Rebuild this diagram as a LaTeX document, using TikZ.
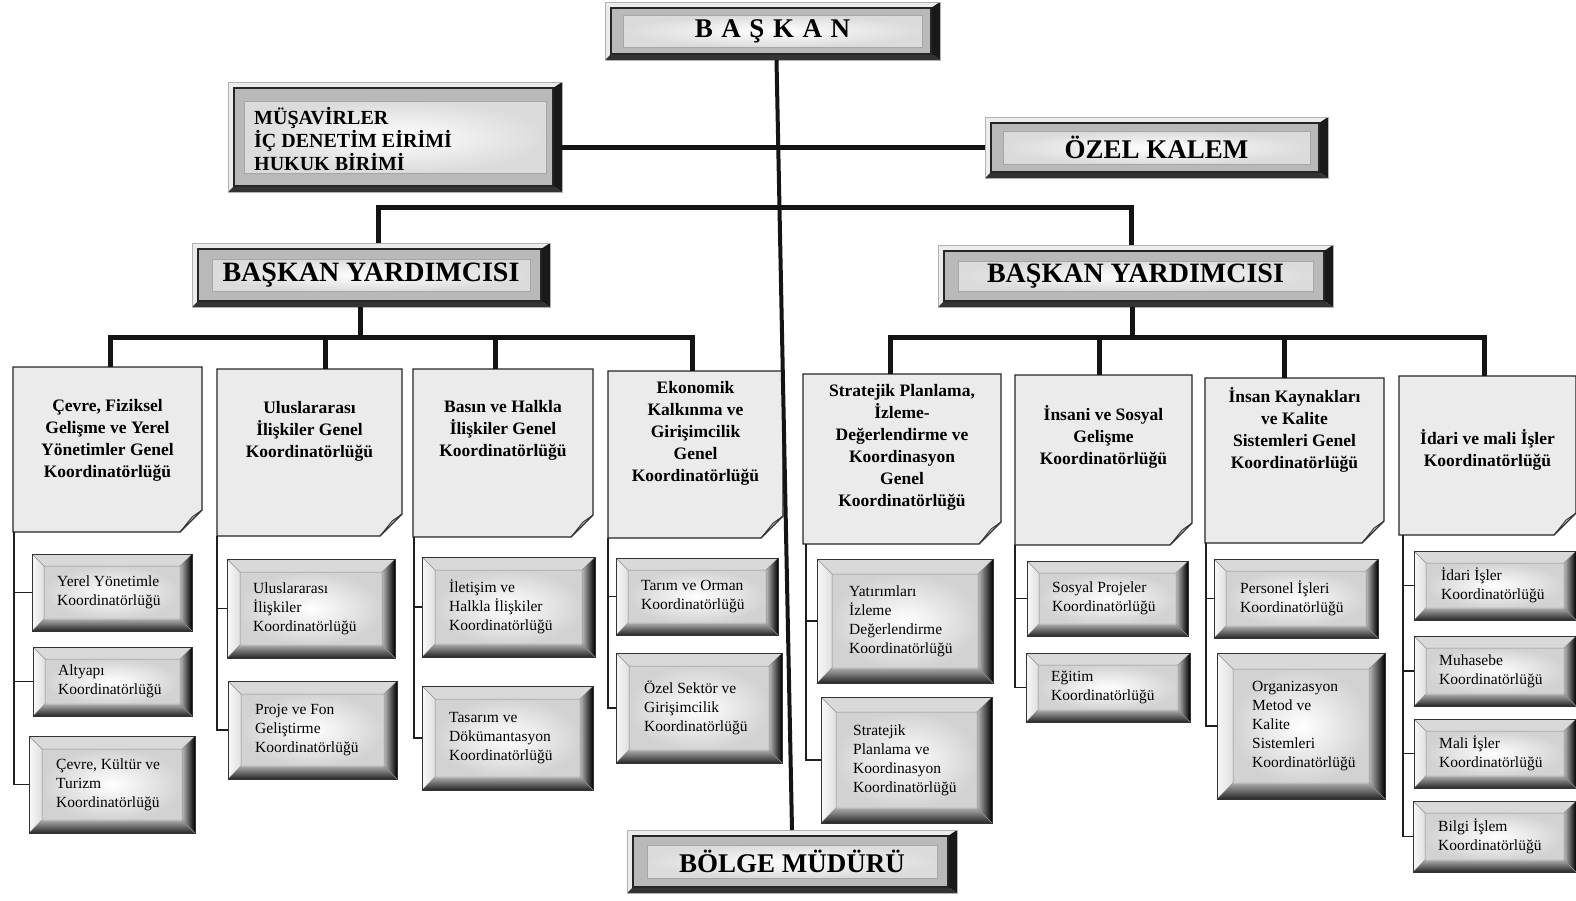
\documentclass[tikz,border=0pt]{standalone}
\usepackage{fontspec}
\setmainfont{Liberation Serif}
\usetikzlibrary{calc,fit}

\tikzset{
  mainline/.style={line width=5pt, black!92},
  vline/.style={line width=4pt, black!92},
  subline/.style={line width=1.6pt, black!88},
  notefill/.style={fill=gray!16, draw=black!85, line width=1.3pt},
  notetext/.style={font=\bfseries\fontsize{17.5}{22}\selectfont, align=center, text=black},
  childtext/.style={font=\fontsize{15.5}{19}\selectfont, align=left, anchor=west, text=black, inner sep=0pt},
  bigtext/.style={font=\bfseries\fontsize{27}{30}\selectfont, text=black},
  bytext/.style={font=\bfseries\fontsize{28}{30}\selectfont, text=black},
  stafftext/.style={font=\bfseries\fontsize{20}{23}\selectfont, text=black, align=left, anchor=west, inner sep=0pt},
}

% bevelled child box: name, x1, y1, x2, y2, bevel, text inset, text
\newcommand{\bevbox}[8]{%
  \node[fit={(#2,#3) (#4,#5)}, inner sep=0pt, outer sep=0pt] (#1) {};
  \coordinate (#1-a) at ($(#1.north west)+(#6,#6)$);
  \coordinate (#1-b) at ($(#1.north east)+(-#6,#6)$);
  \coordinate (#1-c) at ($(#1.south east)+(-#6,-#6)$);
  \coordinate (#1-d) at ($(#1.south west)+(#6,-#6)$);
  \fill[gray!30] (#1.north west) -- (#1.north east) -- (#1-b) -- (#1-a) -- cycle;
  \shade[left color=gray!5, right color=gray!25] (#1.north west) -- (#1-a) -- (#1-d) -- (#1.south west) -- cycle;
  \shade[left color=gray!55, right color=black] (#1.north east) -- (#1-b) -- (#1-c) -- (#1.south east) -- cycle;
  \shade[top color=gray!65, bottom color=black!85] (#1.south west) -- (#1-d) -- (#1-c) -- (#1.south east) -- cycle;
  \shade[inner color=white, outer color=gray!35] (#1-a) rectangle (#1-c);
  \draw[black!45, line width=0.5pt] (#1.north west) -- (#1-a) (#1.north east) -- (#1-b)
      (#1.south east) -- (#1-c) (#1.south west) -- (#1-d) (#1-a) rectangle (#1-c);
  \draw[black!80, line width=0.9pt] (#1.north west) rectangle (#1.south east);
  \node[childtext] (#1-t) at ($(#1.west)+(#7,0)$) {#8};
}

% framed title box: name, x1, y1, x2, y2, inner inset x, inner inset y
\newcommand{\bigbox}[7]{%
  \node[fit={(#2,#3) (#4,#5)}, inner sep=0pt, outer sep=0pt] (#1) {};
  \fill[gray!15] (#1.north west) rectangle (#1.south east);
  \fill[black!90] (#1.north east) -- ($(#1.north east)+(-9,6)$) -- ($(#1.south east)+(-9,-6)$) -- (#1.south east) -- cycle;
  \fill[black!80] (#1.south west) -- ($(#1.south west)+(6,-6)$) -- ($(#1.south east)+(-9,-6)$) -- (#1.south east) -- cycle;
  \draw[gray!60, line width=0.6pt] (#1.north west) rectangle (#1.south east);
  \filldraw[fill=gray!55, draw=black!85, line width=1.2pt] ($(#1.north west)+(6,6)$) rectangle ($(#1.south east)+(-9,-6)$);
  \shadedraw[inner color=white, outer color=gray!28, draw=gray!70, line width=0.6pt]
      ($(#1.north west)+(#6,#7)$) rectangle ($(#1.south east)+(-#6,-#7)$);
}

% note with folded corner: name, x1, y1, x2, y2, text centre y, text
\newcommand{\notebox}[7]{%
  \node[fit={(#2,#3) (#4,#5)}, inner sep=0pt, outer sep=0pt] (#1) {};
  \filldraw[notefill] (#1.north west) -- (#1.north east) -- ($(#1.south east)+(0,-22)$)
      -- ($(#1.south east)+(-22,0)$) -- (#1.south west) -- cycle;
  \filldraw[fill=gray!60, draw=black!80, line width=0.8pt] ($(#1.south east)+(0,-22)$)
      -- ($(#1.south east)+(-22,0)$) -- ($(#1.south east)+(-10,-15)$) -- cycle;
  \node[notetext] (#1-t) at (#1.center |- 0,#6) {#7};
}

\begin{document}
\begin{tikzpicture}[x=1pt,y=-1pt]
\useasboundingbox[fill=white] (0,0) rectangle (1576,900);

% ---------- title boxes ----------
\bigbox{baskan}{605}{2}{940}{60}{18}{13}
\node[bigtext] (baskan-t) at (baskan.center) {B\hspace{8.5pt}A\hspace{8.5pt}Ş\hspace{8.5pt}K\hspace{8.5pt}A\hspace{8.5pt}N};

\bigbox{musavir}{228}{82}{562}{192}{16}{19}
\node[stafftext] (musavir-t) at ($(musavir.west)+(26,2)$) {MÜŞAVİRLER\\İÇ DENETİM EİRİMİ\\HUKUK BİRİMİ};

\bigbox{ozel}{985}{117}{1328}{178}{18}{14}
\node[bigtext] (ozel-t) at (ozel.center) {ÖZEL KALEM};

\bigbox{byl}{192}{243}{550}{307}{20}{16}
\node[bytext] (byl-t) at (byl.center) {BAŞKAN YARDIMCISI};

\bigbox{byr}{938}{245}{1333}{307}{20}{16}
\node[bytext] (byr-t) at (byr.center) {BAŞKAN YARDIMCISI};

\bigbox{bolge}{627}{830}{957}{893}{20}{15}
\node[bigtext] (bolge-t) at (bolge.center) {BÖLGE MÜDÜRÜ};

% ---------- general coordinatorship notes ----------
\notebox{n1}{13}{367}{202}{532}{440}{Çevre, Fiziksel\\Gelişme ve Yerel\\Yönetimler Genel\\Koordinatörlüğü}
\notebox{n2}{217}{369}{402}{536}{431}{Uluslararası\\İlişkiler Genel\\Koordinatörlüğü}
\notebox{n3}{413}{369}{593}{537}{430}{Basın ve Halkla\\İlişkiler Genel\\Koordinatörlüğü}
\notebox{n4}{608}{371}{783}{538}{433}{Ekonomik\\Kalkınma ve\\Girişimcilik\\Genel\\Koordinatörlüğü}
\notebox{n5}{803}{374}{1001}{544}{447}{Stratejik Planlama,\\İzleme-\\Değerlendirme ve\\Koordinasyon\\Genel\\Koordinatörlüğü}
\notebox{n6}{1015}{375}{1192}{545}{437}{İnsani ve Sosyal\\Gelişme\\Koordinatörlüğü}
\notebox{n7}{1205}{378}{1384}{543}{430}{İnsan Kaynakları\\ve Kalite\\Sistemleri Genel\\Koordinatörlüğü}
\notebox{n8}{1399}{376}{1576}{535}{450}{İdari ve mali İşler\\Koordinatörlüğü}

% ---------- coordinatorship boxes ----------
\bevbox{c1a}{32}{554}{192}{631}{12}{25}{Yerel Yönetimle\\Koordinatörlüğü}
\bevbox{c1b}{33}{647}{192}{716}{12}{25}{Altyapı\\Koordinatörlüğü}
\bevbox{c1c}{29}{736}{195}{833}{13}{27}{Çevre, Kültür ve\\Turizm\\Koordinatörlüğü}

\bevbox{c2a}{227}{559}{395}{658}{13}{26}{Uluslararası\\İlişkiler\\Koordinatörlüğü}
\bevbox{c2b}{228}{681}{397}{779}{13}{27}{Proje ve Fon\\Geliştirme\\Koordinatörlüğü}

\bevbox{c3a}{422}{557}{595}{657}{13}{27}{İletişim ve\\Halkla İlişkiler\\Koordinatörlüğü}
\bevbox{c3b}{422}{686}{593}{790}{13}{27}{Tasarım ve\\Dökümantasyon\\Koordinatörlüğü}

\bevbox{c4a}{616}{558}{778}{635}{12}{25}{Tarım ve Orman\\Koordinatörlüğü}
\bevbox{c4b}{616}{653}{782}{763}{13}{28}{Özel Sektör ve\\Girişimcilik\\Koordinatörlüğü}

\bevbox{c5a}{817}{559}{993}{683}{15}{32}{Yatırımları\\İzleme\\Değerlendirme\\Koordinatörlüğü}
\bevbox{c5b}{821}{697}{992}{823}{15}{32}{Stratejik\\Planlama ve\\Koordinasyon\\Koordinatörlüğü}

\bevbox{c6a}{1027}{561}{1188}{636}{12}{25}{Sosyal Projeler\\Koordinatörlüğü}
\bevbox{c6b}{1026}{653}{1190}{722}{12}{25}{Eğitim\\Koordinatörlüğü}

\bevbox{c7a}{1214}{559}{1378}{638}{12}{26}{Personel İşleri\\Koordinatörlüğü}
\bevbox{c7b}{1217}{653}{1385}{799}{16}{35}{Organizasyon\\Metod ve\\Kalite\\Sistemleri\\Koordinatörlüğü}

\bevbox{c8a}{1414}{551}{1576}{620}{12}{27}{İdari İşler\\Koordinatörlüğü}
\bevbox{c8b}{1414}{636}{1576}{706}{12}{25}{Muhasebe\\Koordinatörlüğü}
\bevbox{c8c}{1414}{719}{1576}{788}{12}{25}{Mali İşler\\Koordinatörlüğü}
\bevbox{c8d}{1413}{801}{1576}{872}{12}{25}{Bilgi İşlem\\Koordinatörlüğü}

% ---------- main connectors ----------
\draw[vline] ([xshift=4pt]baskan.south) -- (bolge.north);
\draw[mainline] (musavir.east |- ozel.west) -- (ozel.west);

\coordinate (t1) at (378,207);
\coordinate (t2) at (1131,207);
\draw[mainline] (t1 |- byl.north) -- (t1) -- (t2) -- (t2 |- byr.north);

\coordinate (lb) at (360,337);
\coordinate (d1) at (110,337);
\coordinate (d2) at (325,337);
\coordinate (d3) at (495,337);
\coordinate (d4) at (692,337);
\draw[mainline] (lb |- byl.south) -- (lb);
\draw[mainline] (d1 |- n1.north) -- (d1) -- (d4) -- (d4 |- n4.north);
\draw[mainline] (d2) -- (d2 |- n2.north);
\draw[mainline] (d3) -- (d3 |- n3.north);

\coordinate (rb) at (1132,337);
\coordinate (d5) at (890,337);
\coordinate (d6) at (1099,337);
\coordinate (d7) at (1284,337);
\coordinate (d8) at (1484,337);
\draw[mainline] (rb |- byr.south) -- (rb);
\draw[mainline] (d5 |- n5.north) -- (d5) -- (d8) -- (d8 |- n8.north);
\draw[mainline] (d6) -- (d6 |- n6.north);
\draw[mainline] (d7) -- (d7 |- n7.north);

% ---------- sub connectors ----------
\coordinate (v1) at (14,0);
\coordinate (v2) at (217,0);
\coordinate (v3) at (414,0);
\coordinate (v4) at (608,0);
\coordinate (v5) at (806,0);
\coordinate (v6) at (1015,0);
\coordinate (v7) at (1206,0);
\coordinate (v8) at (1403,0);

\draw[subline] (v1 |- n1.south) |- (c1c.west);
\draw[subline] (v1 |- c1a.west) -- (c1a.west);
\draw[subline] (v1 |- c1b.west) -- (c1b.west);

\draw[subline] (v2 |- n2.south) |- (c2b.west);
\draw[subline] (v2 |- c2a.west) -- (c2a.west);

\draw[subline] (v3 |- n3.south) |- (c3b.west);
\draw[subline] (v3 |- c3a.west) -- (c3a.west);

\draw[subline] (v4 |- n4.south) |- (c4b.west);
\draw[subline] (v4 |- c4a.west) -- (c4a.west);

\draw[subline] (v5 |- n5.south) |- (c5b.west);
\draw[subline] (v5 |- c5a.west) -- (c5a.west);

\draw[subline] (v6 |- n6.south) |- (c6b.west);
\draw[subline] (v6 |- c6a.west) -- (c6a.west);

\draw[subline] (v7 |- n7.south) |- (c7b.west);
\draw[subline] (v7 |- c7a.west) -- (c7a.west);

\draw[subline] (v8 |- n8.south) |- (c8d.west);
\draw[subline] (v8 |- c8a.west) -- (c8a.west);
\draw[subline] (v8 |- c8b.west) -- (c8b.west);
\draw[subline] (v8 |- c8c.west) -- (c8c.west);
\end{tikzpicture}
\end{document}
